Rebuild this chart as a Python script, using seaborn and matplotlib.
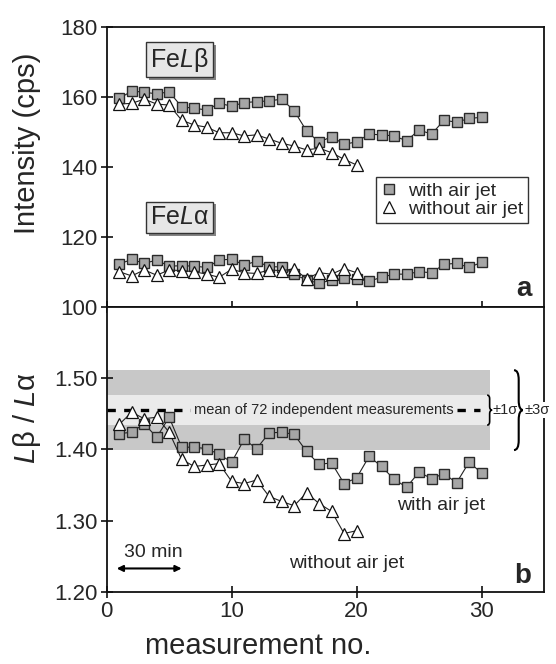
import numpy as np
import pandas as pd
import matplotlib
matplotlib.use('Agg')
import matplotlib.pyplot as plt
import seaborn as sns
from matplotlib.path import Path
from matplotlib.patches import PathPatch
import matplotlib.patheffects as pe
from matplotlib.lines import Line2D

# ---------------- data ----------------
n_with = list(range(1, 31))
n_without = list(range(1, 21))

lb_with = [159.5, 161.6, 161.3, 160.8, 161.4, 157.1, 156.7, 156.2, 158.1, 157.3,
           158.3, 158.6, 158.8, 159.3, 156.0, 150.2, 147.0, 148.6, 146.4, 147.1,
           149.3, 149.1, 148.8, 147.4, 150.5, 149.3, 153.3, 152.7, 153.8, 154.1]
lb_without = [157.9, 158.1, 159.3, 157.9, 157.6, 153.3, 151.9, 151.3, 149.7, 149.7,
              148.8, 149.1, 147.9, 146.7, 145.9, 144.8, 145.3, 144.0, 142.1, 140.5]

la_with = [112.2, 113.5, 112.4, 113.3, 111.6, 111.7, 111.6, 111.2, 113.3, 113.6,
           111.9, 113.0, 111.4, 111.4, 109.3, 107.6, 106.7, 107.6, 108.1, 107.9,
           107.3, 108.4, 109.3, 109.3, 110.0, 109.7, 112.1, 112.4, 111.2, 112.7]
la_without = [110.0, 108.8, 110.5, 109.0, 110.5, 110.3, 110.0, 109.3, 108.4, 110.7,
              109.7, 109.5, 110.5, 110.3, 110.8, 108.0, 109.7, 109.3, 110.9, 109.7]

ratio_with = [1.422, 1.424, 1.436, 1.417, 1.445, 1.403, 1.403, 1.401, 1.393, 1.382,
              1.414, 1.401, 1.423, 1.424, 1.421, 1.397, 1.379, 1.381, 1.352, 1.360,
              1.390, 1.376, 1.358, 1.347, 1.368, 1.359, 1.366, 1.353, 1.382, 1.367]
ratio_without = [1.435, 1.452, 1.443, 1.445, 1.424, 1.386, 1.376, 1.378, 1.380, 1.355,
                 1.352, 1.357, 1.334, 1.327, 1.321, 1.339, 1.324, 1.313, 1.282, 1.286]

mean72 = 1.455
band1 = (1.434, 1.476)   # +-1 sigma
band3 = (1.399, 1.511)   # +-3 sigma (as drawn)
band_end = 30.7

top_yticks = [100, 120, 140, 160, 180]
bot_yticks = [1.20, 1.30, 1.40, 1.50]
bot_yticklabels = ['1.20', '1.30', '1.40', '1.50']
xticks = [0, 10, 20, 30]

# ---------------- style ----------------
sns.set_style('ticks')
plt.rcParams['font.family'] = ['Liberation Sans', 'DejaVu Sans']
plt.rcParams['mathtext.fontset'] = 'custom'
plt.rcParams['mathtext.rm'] = 'Liberation Sans'
plt.rcParams['mathtext.it'] = 'Liberation Sans:italic'
plt.rcParams['axes.edgecolor'] = 'black'
plt.rcParams['axes.linewidth'] = 1.3

fig = plt.figure(figsize=(5.56, 6.64), dpi=100)
W, H = 556.0, 664.0
x0, x1 = 106.7, 544.0
ax1 = fig.add_axes([x0 / W, 1 - 306.7 / H, (x1 - x0) / W, 280.0 / H])
ax2 = fig.add_axes([x0 / W, 1 - 592.0 / H, (x1 - x0) / W, 285.3 / H])

sq_kw = dict(color='#222222', linewidth=0.8, marker='s', markersize=7,
             markerfacecolor='#a6a6a6', markeredgecolor='#2a2a2a', markeredgewidth=1.0)
tr_kw = dict(color='#222222', linewidth=0.8, marker='^', markersize=8.5,
             markerfacecolor='white', markeredgecolor='#111111', markeredgewidth=0.9)

# top panel
sns.lineplot(x=n_with, y=lb_with, ax=ax1, **sq_kw)
sns.lineplot(x=n_with, y=la_with, ax=ax1, **sq_kw)
sns.lineplot(x=n_without, y=lb_without, ax=ax1, **tr_kw)
sns.lineplot(x=n_without, y=la_without, ax=ax1, **tr_kw)

# bottom panel bands
ax2.axhspan(band3[0], band3[1], xmin=0, xmax=band_end / 35, color='#c8c8c8', lw=0, zorder=0)
ax2.axhspan(band1[0], band1[1], xmin=0, xmax=band_end / 35, color='#ebebeb', lw=0, zorder=0.5)
ax2.plot([0, 29.9], [mean72, mean72], color='black', lw=2.4, ls=(0, (2.5, 2.5)), zorder=1)
ax2.text(7.0, mean72, 'mean of 72 independent measurements', fontsize=10.5,
         ha='left', va='center', zorder=1.5,
         bbox=dict(boxstyle='square,pad=0.25', fc='#ebebeb', ec='none'))

sns.lineplot(x=n_with, y=ratio_with, ax=ax2, **sq_kw)
sns.lineplot(x=n_without, y=ratio_without, ax=ax2, **tr_kw)


def brace(ax, x, ylo, yhi, w, lw=1.3):
    ym = 0.5 * (ylo + yhi)
    r = (yhi - ylo) * 0.12
    xm = x + w * 0.5
    verts = [(x, yhi), (xm, yhi), (xm, yhi - r),
             (xm, ym + r),
             (xm, ym), (x + w, ym),
             (xm, ym), (xm, ym - r),
             (xm, ylo + r),
             (xm, ylo), (x, ylo)]
    codes = [Path.MOVETO, Path.CURVE3, Path.CURVE3,
             Path.LINETO,
             Path.CURVE3, Path.CURVE3,
             Path.CURVE3, Path.CURVE3,
             Path.LINETO,
             Path.CURVE3, Path.CURVE3]
    p = PathPatch(Path(verts, codes), fc='none', ec='black', lw=lw, clip_on=False, zorder=5)
    ax.add_patch(p)


brace(ax2, 30.45, band1[0], band1[1], 0.4, lw=1.2)
brace(ax2, 32.6, band3[0], band3[1], 0.75, lw=1.5)
ax2.text(30.9, mean72, '±1σ', fontsize=10.5, ha='left', va='center', zorder=6)
ax2.text(33.4, mean72, '±3σ', fontsize=10.5, ha='left', va='center', zorder=6,
         clip_on=False, bbox=dict(boxstyle='square,pad=0.05', fc='white', ec='none'))

# annotations bottom
ax2.text(26.8, 1.321, 'with air jet', fontsize=14, ha='center', va='center')
ax2.text(19.2, 1.240, 'without air jet', fontsize=14, ha='center', va='center')
ax2.text(3.7, 1.255, '30 min', fontsize=14, ha='center', va='center')
ax2.annotate('', xy=(0.8, 1.233), xytext=(6.0, 1.233),
             arrowprops=dict(arrowstyle='<|-|>', color='black', lw=1.5,
                             mutation_scale=9, shrinkA=0, shrinkB=0))
ax2.text(34.0, 1.222, 'b', fontsize=20, fontweight='bold', ha='right', va='center')
ax1.text(34.0, 105.0, 'a', fontsize=20, fontweight='bold', ha='right', va='center')

# element labels in boxes
for txt, yv in [('Fe$\\mathit{L}$β', 170.6), ('Fe$\\mathit{L}$α', 125.5)]:
    t = ax1.text(3.45, yv, txt + ' ', fontsize=18, ha='left', va='center',
                 bbox=dict(boxstyle='square,pad=0.15', fc='#e6e6e6', ec='#333333', lw=1.0))
    t.get_bbox_patch().set_path_effects([
        pe.SimplePatchShadow(offset=(2, -2), shadow_rgbFace='#777777', alpha=0.9),
        pe.Normal()])

# legend
handles = [Line2D([], [], ls='none', marker='s', markersize=7, markerfacecolor='#a6a6a6',
                  markeredgecolor='#2a2a2a', markeredgewidth=1.0),
           Line2D([], [], ls='none', marker='^', markersize=8, markerfacecolor='white',
                  markeredgecolor='#111111', markeredgewidth=0.9)]
leg = ax1.legend(handles, ['with air jet', 'without air jet'], loc='upper left',
                 bbox_to_anchor=(0.616, 0.463), borderaxespad=0, fontsize=14,
                 frameon=True, fancybox=False, handlelength=0.8, handletextpad=0.6,
                 borderpad=0.25, labelspacing=0.05)
leg.get_frame().set_edgecolor('black')
leg.get_frame().set_linewidth(1.0)

# axes settings
for ax in (ax1, ax2):
    ax.set_xlim(0, 35)
    ax.set_xticks(xticks)
    for s in ax.spines.values():
        s.set_visible(True)
        s.set_color('#111111')
        s.set_linewidth(1.3)
    ax.tick_params(direction='inout', length=9, width=1.2, labelsize=16, pad=2,
                   color='#111111')
    ax.set_xlabel('')
    ax.set_ylabel('')

ax1.set_ylim(100, 180)
ax1.set_yticks(top_yticks)
ax1.tick_params(axis='x', labelbottom=False)
ax2.set_ylim(1.20, 1.60)
ax2.set_yticks(bot_yticks)
ax2.set_yticklabels(bot_yticklabels)
ax2.spines['right'].set_zorder(2)

fig.text(27 / W, 1 - 143.5 / H, 'Intensity (cps)', rotation=90, fontsize=21,
         ha='center', va='center')
fig.text(27 / W, 1 - 418 / H, '$\\mathit{L}$β / $\\mathit{L}$α', rotation=90, fontsize=21,
         ha='center', va='center')
fig.text((x0 + 12.5 * 12.1) / W, 1 - 646 / H, 'measurement no.', fontsize=21,
         ha='center', va='center')

fig.savefig('out.png', dpi=100)
